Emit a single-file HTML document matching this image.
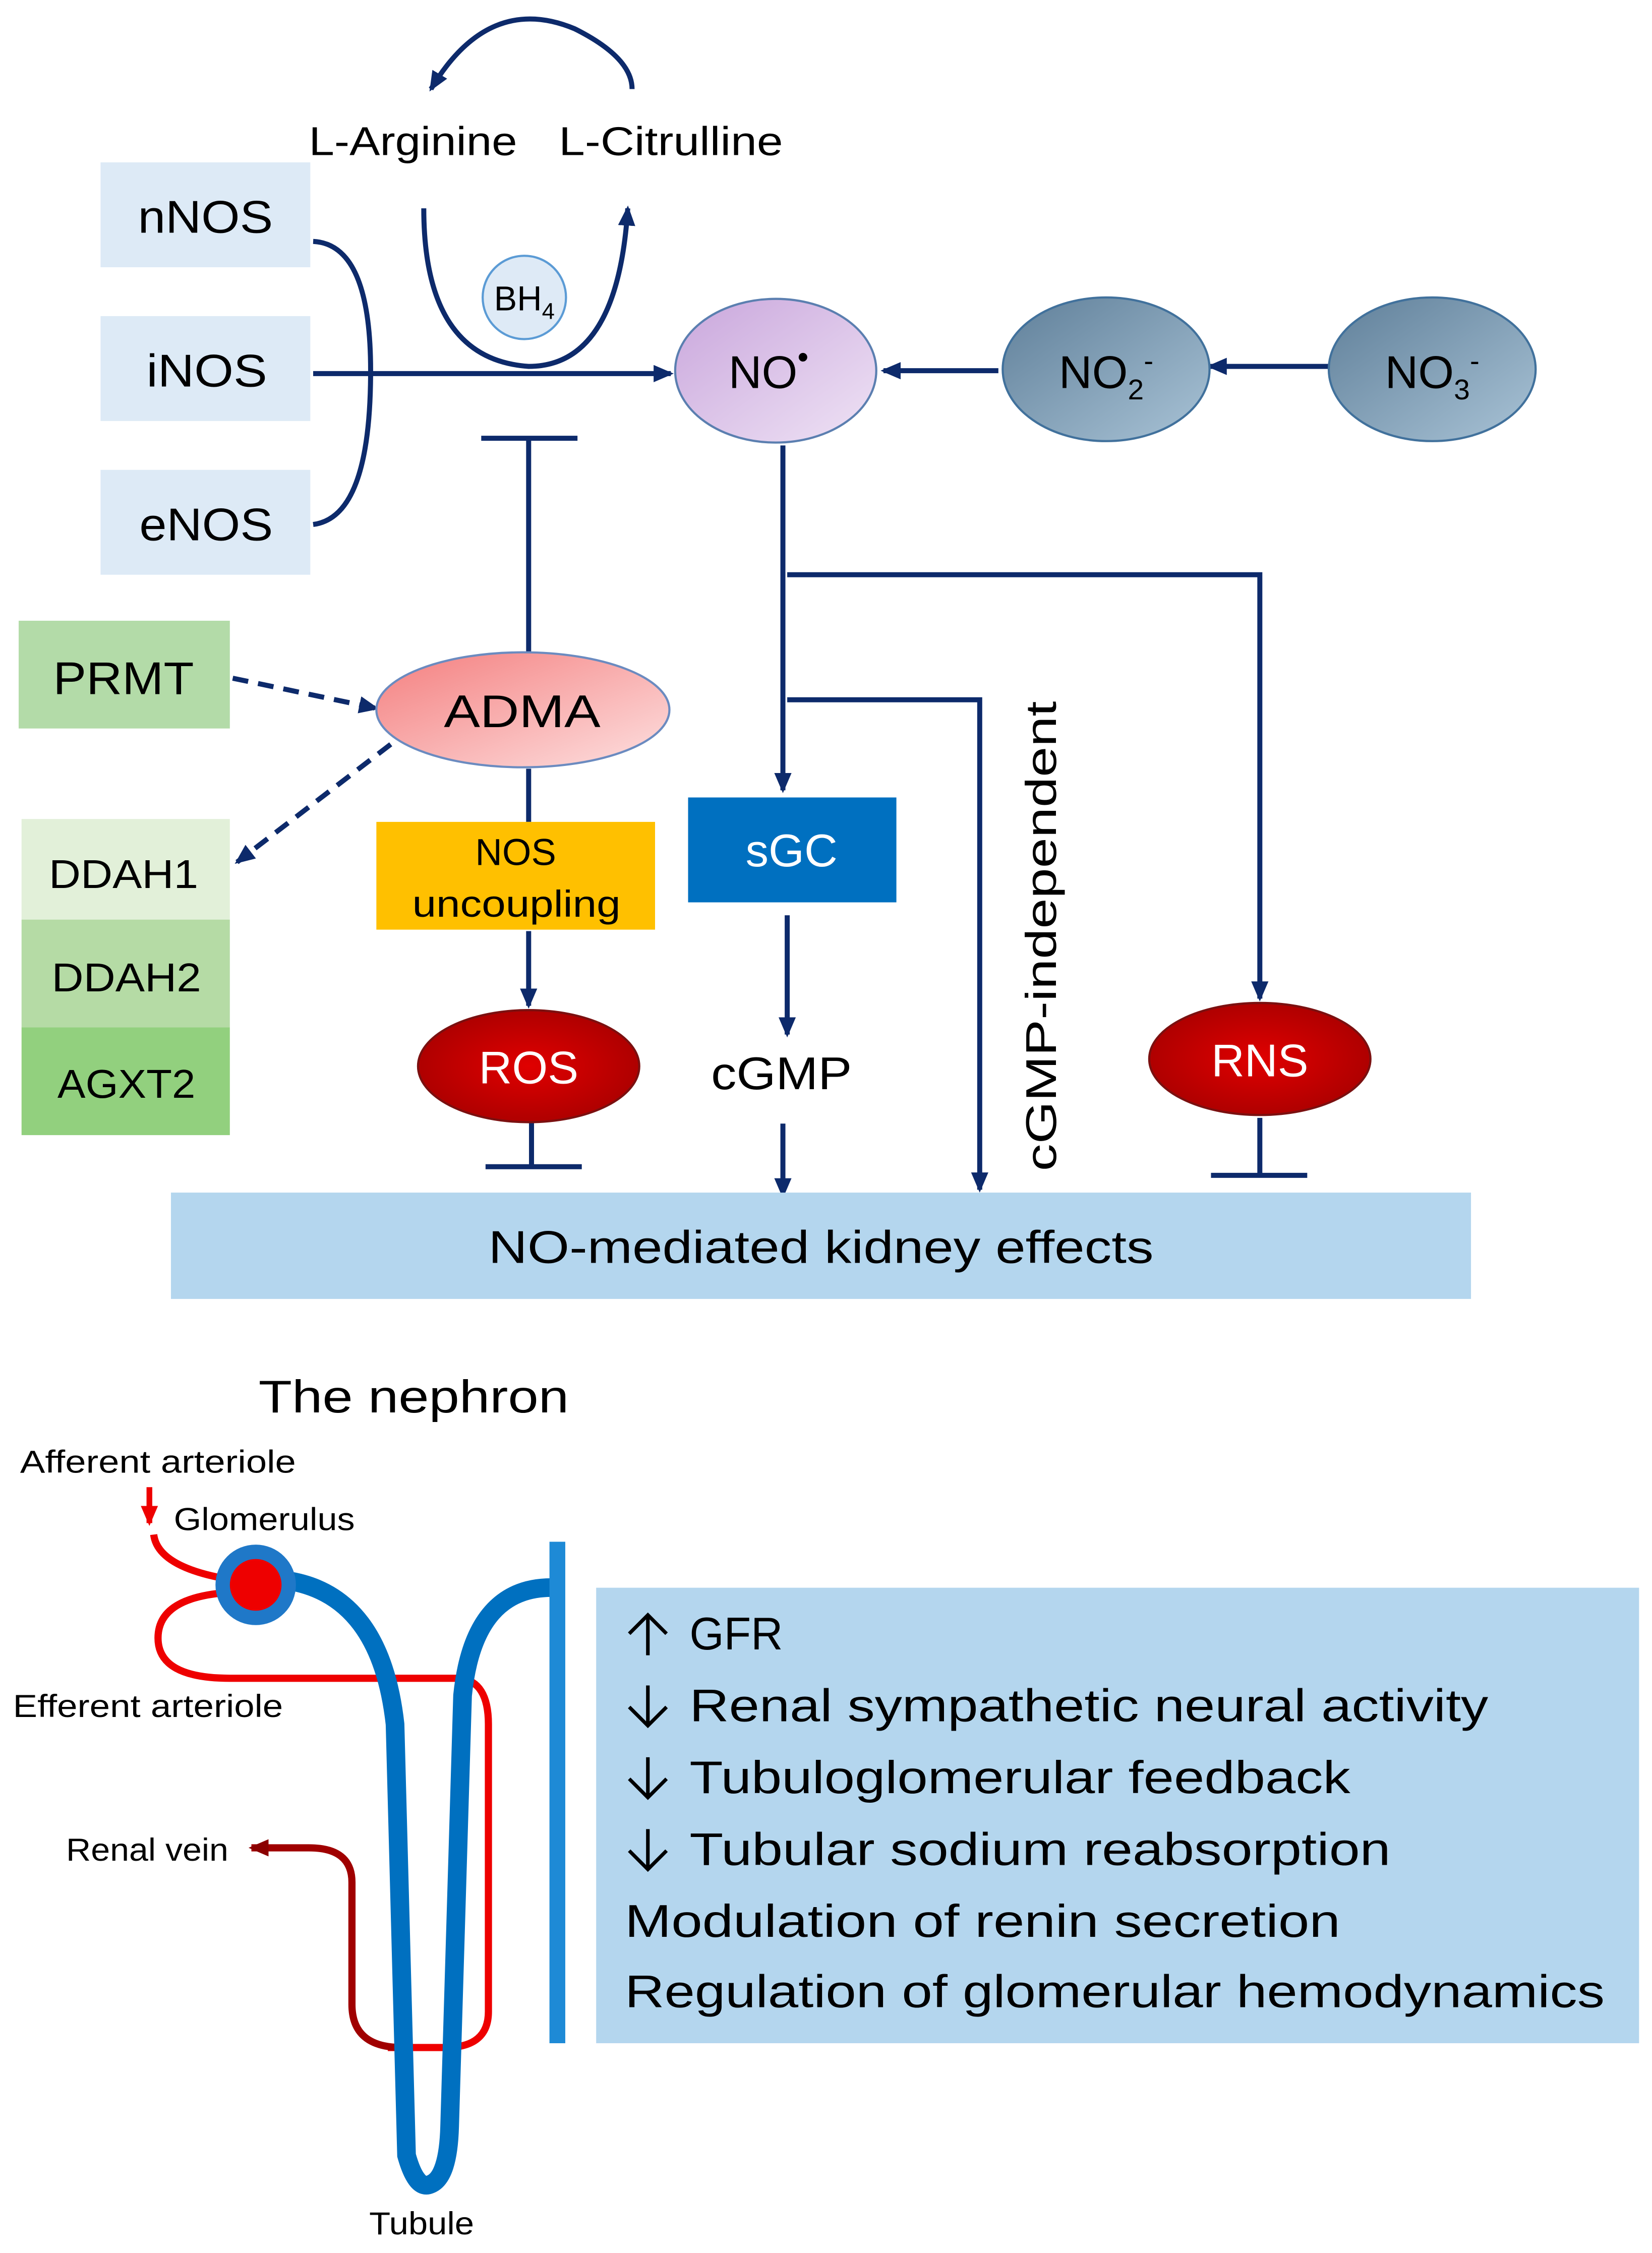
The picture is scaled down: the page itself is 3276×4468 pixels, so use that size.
<!DOCTYPE html>
<html><head><meta charset="utf-8"><style>
html,body{margin:0;padding:0;background:#fff;}
svg{display:block;}
text{font-family:"Liberation Sans","DejaVu Sans",sans-serif;}
</style></head><body>
<svg width="3276" height="4468" viewBox="0 0 1150 1568" preserveAspectRatio="none" xmlns="http://www.w3.org/2000/svg">
<defs>
<marker id="ab" markerWidth="14" markerHeight="12" refX="12" refY="6" orient="auto" markerUnits="userSpaceOnUse"><path d="M0,0 L14,6 L0,12 z" fill="#0d2a6b"/></marker>
<marker id="ar" markerWidth="14" markerHeight="12" refX="12" refY="6" orient="auto" markerUnits="userSpaceOnUse"><path d="M0,0 L14,6 L0,12 z" fill="#e00"/></marker>
<marker id="ad" markerWidth="14" markerHeight="12" refX="12" refY="6" orient="auto" markerUnits="userSpaceOnUse"><path d="M0,0 L14,6 L0,12 z" fill="#8b0000"/></marker>
<linearGradient id="gno" x1="0" y1="0" x2="1" y2="1"><stop offset="0" stop-color="#c9a6dc"/><stop offset="1" stop-color="#efe3f5"/></linearGradient>
<linearGradient id="gn2" x1="0" y1="0" x2="1" y2="1"><stop offset="0" stop-color="#5f7f99"/><stop offset="1" stop-color="#a9c3d6"/></linearGradient>
<linearGradient id="gad" x1="0" y1="0" x2="1" y2="1"><stop offset="0" stop-color="#f47f7f"/><stop offset="1" stop-color="#fde0e0"/></linearGradient>
<radialGradient id="gred" cx="0.5" cy="0.5" r="0.6"><stop offset="0" stop-color="#e00000"/><stop offset="1" stop-color="#a50000"/></radialGradient>
</defs>
<g fill="none" stroke="#0d2a6b" stroke-width="3.5">
<path d="M440,62 Q440,40 400,20 Q340,-5 300,62" marker-end="url(#ab)"/>
<path d="M295,145 Q295,250 368,255 Q430,255 437,145" marker-end="url(#ab)"/>
<path d="M218,168 Q258,170 258,258 Q258,360 218,365"/>
<path d="M218,260 L467,260" marker-end="url(#ab)"/>
<path d="M695,258 L615,258" marker-end="url(#ab)"/>
<path d="M925,255 L842,255" marker-end="url(#ab)"/>
<path d="M368,455 L368,305 M335,305 L402,305"/>
<path d="M545,310 L545,550" marker-end="url(#ab)"/>
<path d="M548,400 L877,400 L877,695" marker-end="url(#ab)"/>
<path d="M548,487 L682,487 L682,828" marker-end="url(#ab)"/>
<path d="M548,637 L548,720" marker-end="url(#ab)"/>
<path d="M545,782 L545,832" marker-end="url(#ab)"/>
<path d="M368,535 L368,572 M368,648 L368,700" marker-end="url(#ab)"/>
<path d="M370,780 L370,812 M338,812 L405,812"/>
<path d="M877,778 L877,818 M843,818 L910,818"/>
<path d="M162,472 L262,493" stroke-dasharray="11,7" marker-end="url(#ab)"/>
<path d="M272,518 L165,600" stroke-dasharray="11,7" marker-end="url(#ab)"/>
</g>
<rect x="70" y="113" width="146" height="73" fill="#ddeaf6"/>
<rect x="70" y="220" width="146" height="73" fill="#ddeaf6"/>
<rect x="70" y="327" width="146" height="73" fill="#ddeaf6"/>
<text x="96" y="162" font-size="32" textLength="94" lengthAdjust="spacingAndGlyphs">nNOS</text>
<text x="102" y="269" font-size="32" textLength="84" lengthAdjust="spacingAndGlyphs">iNOS</text>
<text x="97" y="376" font-size="32" textLength="93" lengthAdjust="spacingAndGlyphs">eNOS</text>
<text x="215" y="108" font-size="28" textLength="145" lengthAdjust="spacingAndGlyphs">L-Arginine</text>
<text x="389" y="108" font-size="28" textLength="156" lengthAdjust="spacingAndGlyphs">L-Citrulline</text>
<circle cx="365" cy="207" r="29" fill="#deeaf6" stroke="#5b9bd5" stroke-width="1.5"/>
<text x="365" y="216" font-size="24" text-anchor="middle">BH<tspan font-size="16" dy="6">4</tspan></text>
<ellipse cx="540" cy="258" rx="70" ry="50" fill="url(#gno)" stroke="#5b7fb0" stroke-width="1.5"/>
<text x="535" y="270" font-size="32" text-anchor="middle">NO<tspan font-size="22" dy="-14">•</tspan></text>
<ellipse cx="770" cy="257" rx="72" ry="50" fill="url(#gn2)" stroke="#41719c" stroke-width="1.5"/>
<text x="770" y="270" font-size="32" text-anchor="middle">NO<tspan font-size="20" dy="8">2</tspan><tspan font-size="20" dy="-20">-</tspan></text>
<ellipse cx="997" cy="257" rx="72" ry="50" fill="url(#gn2)" stroke="#41719c" stroke-width="1.5"/>
<text x="997" y="270" font-size="32" text-anchor="middle">NO<tspan font-size="20" dy="8">3</tspan><tspan font-size="20" dy="-20">-</tspan></text>
<rect x="13" y="432" width="147" height="75" fill="#b3dba8"/>
<text x="37" y="483" font-size="32" textLength="98" lengthAdjust="spacingAndGlyphs">PRMT</text>
<rect x="15" y="570" width="145" height="70" fill="#e2f0d9"/>
<rect x="15" y="640" width="145" height="75" fill="#b5dba5"/>
<rect x="15" y="715" width="145" height="75" fill="#92d07e"/>
<text x="34" y="618" font-size="28" textLength="104" lengthAdjust="spacingAndGlyphs">DDAH1</text>
<text x="36" y="690" font-size="28" textLength="104" lengthAdjust="spacingAndGlyphs">DDAH2</text>
<text x="40" y="764" font-size="28" textLength="96" lengthAdjust="spacingAndGlyphs">AGXT2</text>
<ellipse cx="364" cy="494" rx="102" ry="40" fill="url(#gad)" stroke="#6b8bc0" stroke-width="1.5"/>
<text x="309" y="506" font-size="32" textLength="109" lengthAdjust="spacingAndGlyphs">ADMA</text>
<rect x="262" y="572" width="194" height="75" fill="#ffc000"/>
<text x="359" y="602" font-size="26" text-anchor="middle">NOS</text>
<text x="287" y="638" font-size="26" textLength="145" lengthAdjust="spacingAndGlyphs">uncoupling</text>
<rect x="479" y="555" width="145" height="73" fill="#0070c0"/>
<text x="551" y="603" font-size="32" text-anchor="middle" fill="#fff">sGC</text>
<ellipse cx="368" cy="742" rx="77" ry="39" fill="url(#gred)" stroke="#7b1010" stroke-width="1.5"/>
<text x="368" y="754" font-size="32" text-anchor="middle" fill="#fff">ROS</text>
<ellipse cx="877" cy="737" rx="77" ry="39" fill="url(#gred)" stroke="#7b1010" stroke-width="1.5"/>
<text x="877" y="749" font-size="32" text-anchor="middle" fill="#fff">RNS</text>
<text x="495" y="758" font-size="32" textLength="98" lengthAdjust="spacingAndGlyphs">cGMP</text>
<text transform="translate(735,815) rotate(-90)" font-size="30" textLength="327" lengthAdjust="spacingAndGlyphs">cGMP-independent</text>
<rect x="119" y="830" width="905" height="74" fill="#b4d6ee"/>
<text x="340" y="879" font-size="32" textLength="463" lengthAdjust="spacingAndGlyphs">NO-mediated kidney effects</text>
<text x="180" y="983" font-size="32" textLength="216" lengthAdjust="spacingAndGlyphs">The nephron</text>
<text x="14" y="1025" font-size="22" textLength="192" lengthAdjust="spacingAndGlyphs">Afferent arteriole</text>
<text x="121" y="1065" font-size="22" textLength="126" lengthAdjust="spacingAndGlyphs">Glomerulus</text>
<text x="9" y="1195" font-size="22" textLength="188" lengthAdjust="spacingAndGlyphs">Efferent arteriole</text>
<text x="46" y="1295" font-size="22" textLength="113" lengthAdjust="spacingAndGlyphs">Renal vein</text>
<text x="257" y="1555" font-size="22" textLength="73" lengthAdjust="spacingAndGlyphs">Tubule</text>
<g fill="none">
<path d="M104,1035 L104,1060" stroke="#e00" stroke-width="4" marker-end="url(#ar)"/>
<path d="M107,1068 Q110,1092 165,1100" stroke="#e00" stroke-width="5"/>
<path d="M165,1108 Q110,1110 110,1140 Q110,1168 160,1168 L320,1168 Q340,1170 340,1200 L340,1400 Q340,1425 310,1425 L270,1425" stroke="#e00" stroke-width="5"/>
<path d="M280,1425 Q245,1425 245,1395 L245,1310 Q245,1286 215,1286 L175,1286" stroke="#a00000" stroke-width="5" marker-end="url(#ad)"/>
<path d="M200,1100 Q265,1110 275,1200 L283,1500 Q290,1525 300,1520 Q312,1515 313,1480 L322,1180 Q330,1102 388,1105" stroke="#0070c0" stroke-width="13"/>
<line x1="388" y1="1073" x2="388" y2="1422" stroke="#1e8ad6" stroke-width="11"/>
</g>
<circle cx="178" cy="1103" r="28" fill="#1f78c8"/>
<circle cx="178" cy="1103" r="18" fill="#e00"/>
<rect x="415" y="1105" width="726" height="317" fill="#b4d6ee"/>
<g fill="none" stroke="#000" stroke-width="2.5">
<path d="M451,1124 L451,1152 M438,1137 L451,1124 L464,1137"/>
<path d="M451,1173 L451,1201 M438,1188 L451,1201 L464,1188"/>
<path d="M451,1223 L451,1251 M438,1238 L451,1251 L464,1238"/>
<path d="M451,1273 L451,1301 M438,1288 L451,1301 L464,1288"/>
</g>
<g font-size="32">
<text x="480" y="1148" textLength="65" lengthAdjust="spacingAndGlyphs">GFR</text>
<text x="480" y="1198" textLength="556" lengthAdjust="spacingAndGlyphs">Renal sympathetic neural activity</text>
<text x="480" y="1248" textLength="460" lengthAdjust="spacingAndGlyphs">Tubuloglomerular feedback</text>
<text x="480" y="1298" textLength="488" lengthAdjust="spacingAndGlyphs">Tubular sodium reabsorption</text>
<text x="435" y="1348" textLength="498" lengthAdjust="spacingAndGlyphs">Modulation of renin secretion</text>
<text x="435" y="1397" textLength="682" lengthAdjust="spacingAndGlyphs">Regulation of glomerular hemodynamics</text>
</g>
</svg>
</body></html>
